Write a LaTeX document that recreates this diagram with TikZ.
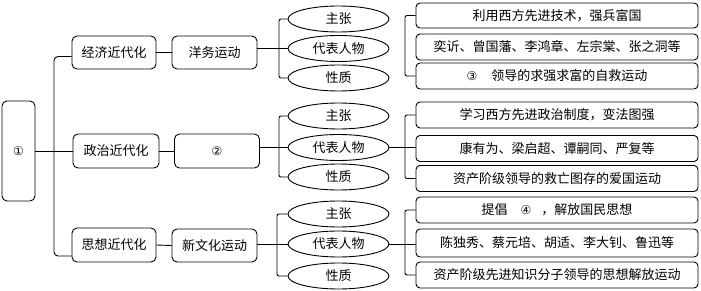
\documentclass[tikz,border=0pt]{standalone}
\usepackage{fontspec}
\usepackage{tikz}
\usetikzlibrary{shapes.geometric}
\newfontfamily\cjk{Noto Sans CJK SC}
\newfontfamily\symfont{DejaVu Sans}
\newcommand{\blank}[1]{{\symfont\fontsize{12}{14}\selectfont #1}}

\tikzset{
  topic/.style={draw, rounded corners=5pt, minimum width=84pt, minimum height=33pt, inner sep=0pt},
  aspect/.style={draw, ellipse, minimum width=101pt, minimum height=26pt, inner sep=0pt},
  detail/.style={draw, rounded corners=4pt, minimum width=282pt, minimum height=26pt, inner sep=0pt},
  elbow/.style={rounded corners=2pt},
}

\begin{document}
\begin{tikzpicture}[x=1pt, y=-1pt, line width=0.9pt, font=\cjk\fontsize{13}{15}\selectfont]
\useasboundingbox (0,0) rectangle (701,291);
% root and the three branches
\node[topic, minimum width=33pt, minimum height=100pt] (root) at (18.5,151) {\blank{①}};
\node[topic] (econ) at (114,52.5) {经济近代化};
\node[topic, minimum width=86pt, minimum height=34pt] (polit) at (116,151) {政治近代化};
\node[topic, minimum height=34pt] (idea) at (114,245) {思想近代化};
\node[topic, minimum width=85pt] (yangwu) at (214.5,52.5) {洋务运动};
\node[topic, minimum width=85pt, minimum height=34pt] (reform) at (217,151) {\blank{②}};
\node[topic, minimum width=85pt] (newcult) at (214.5,245.5) {新文化运动};

% aspects
\node[aspect] (e1a) at (338.5,19) {主张};
\node[aspect] (e1b) at (338.5,48.5) {代表人物};
\node[aspect] (e1c) at (338.5,78) {性质};
\node[aspect] (e2a) at (338.5,116) {主张};
\node[aspect] (e2b) at (338.5,147.5) {代表人物};
\node[aspect] (e2c) at (338.5,177) {性质};
\node[aspect] (e3a) at (338.5,214) {主张};
\node[aspect] (e3b) at (338.5,244) {代表人物};
\node[aspect] (e3c) at (338.5,276) {性质};

% details
\node[detail, minimum height=25pt] (d1a) at (557,15.5) {利用西方先进技术，强兵富国};
\node[detail] (d1b) at (557,47) {奕䜣、曾国藩、李鸿章、左宗棠、张之洞等};
\node[detail] (d1c) at (557,76) {\blank{③}\hspace{14pt}领导的求强求富的自救运动};
\node[detail] (d2a) at (557,115) {学习西方先进政治制度，变法图强};
\node[detail] (d2b) at (557,148.5) {康有为、梁启超、谭嗣同、严复等};
\node[detail] (d2c) at (557,178.5) {资产阶级领导的救亡图存的爱国运动};
\node[detail] (d3a) at (557,210) {提倡\hspace{13pt}\blank{④}\hspace{10pt}，解放国民思想};
\node[detail, minimum height=28pt] (d3b) at (557,243) {陈独秀、蔡元培、胡适、李大钊、鲁迅等};
\node[detail] (d3c) at (557,275) {资产阶级先进知识分子领导的思想解放运动};

% bar positions and trunk ends
\coordinate (t) at (54,0);
\coordinate (b1) at (279,0);
\coordinate (b3) at (277,0);
\coordinate (c) at (405,0);
\coordinate (econin) at ([yshift=-4pt]econ.west);
\coordinate (ideain) at ([yshift=-11pt]idea.west);

% trunk
\draw[rounded corners=4pt] (econin) -- (t |- econin) -- (t |- ideain) -- (ideain);
\draw (root.east) -- (polit.west);
\draw (econ.east) -- (yangwu.west);
\draw (polit.east) -- (reform.west);
\draw (idea.east) -- (newcult.west);

% to the aspects
\draw[elbow] (e1a.west) -- (b1 |- e1a.west) -- (b1 |- e1c.west) -- (e1c.west);
\draw (yangwu.east |- e1b.west) -- (e1b.west);
\draw[elbow] (e2a.west) -- (b1 |- e2a.west) -- (b1 |- e2c.west) -- (e2c.west);
\draw (reform.east |- e2b.west) -- (e2b.west);
\draw[elbow] (e3a.west) -- (b3 |- e3a.west) -- (b3 |- e3c.west) -- (e3c.west);
\draw (newcult.east |- e3b.west) -- (e3b.west);

% to the details
\draw[elbow] (d1a.west) -- (c |- d1a.west) -- (c |- d1c.west) -- (d1c.west);
\draw[elbow] (d2a.west) -- (c |- d2a.west) -- (c |- d2c.west) -- (d2c.west);
\draw (e2b.east) -- (e2b.east -| d2b.west);
\draw[elbow] (d3a.west) -- (c |- d3a.west) -- (c |- d3c.west) -- (d3c.west);
\draw (e3b.east) -- (e3b.east -| d3b.west);
\end{tikzpicture}
\end{document}
